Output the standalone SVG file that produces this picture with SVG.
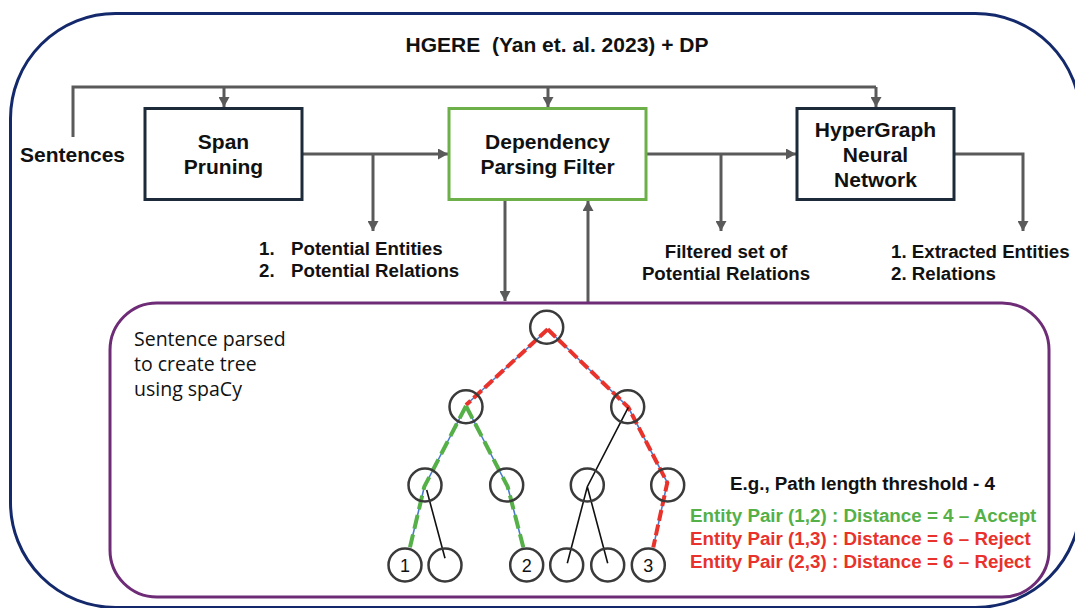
<svg xmlns="http://www.w3.org/2000/svg" width="1075" height="608" viewBox="0 0 1075 608">
<style>
.b{font-family:"Liberation Sans",Arial,sans-serif;font-weight:bold;fill:#111}
.box{fill:#fff;stroke-width:3}
.con{fill:none;stroke:#5a5a5a;stroke-width:3}
.node{fill:none;stroke:#3a3a3a;stroke-width:2.5}
.blue{stroke:#4a7ccc;stroke-width:1.6;fill:none}
.red{stroke:#e8322b;stroke-width:4;stroke-dasharray:11 4;fill:none}
.grn{stroke:#55b047;stroke-width:4;stroke-dasharray:14 6;fill:none}
.blk{stroke:#111;stroke-width:1.6;fill:none}
.lbl{font-family:"Liberation Sans",Arial,sans-serif;font-size:18px;fill:#111;text-anchor:middle}
</style>
<defs>
<marker id="ah" markerUnits="userSpaceOnUse" markerWidth="11" markerHeight="11" refX="10" refY="5.5" orient="auto">
<path d="M0,0 L10,5.5 L0,11 z" fill="#5a5a5a"/>
</marker>
</defs>
<rect x="10.5" y="13.5" width="1070" height="594" rx="105" fill="#fff" stroke="#13296b" stroke-width="3"/>
<text class="b" x="557" y="52" font-size="21" text-anchor="middle" xml:space="preserve">HGERE  (Yan et. al. 2023) + DP</text>
<text class="b" x="20" y="162" font-size="21">Sentences</text>

<g id="connectors">
<polyline class="con" points="73,137 73,87 876,87"/>
<line class="con" x1="224" y1="87" x2="224" y2="107" marker-end="url(#ah)"/>
<line class="con" x1="548" y1="87" x2="548" y2="107" marker-end="url(#ah)"/>
<line class="con" x1="876" y1="87" x2="876" y2="107" marker-end="url(#ah)"/>
<line class="con" x1="302" y1="154" x2="448" y2="154" marker-end="url(#ah)"/>
<line class="con" x1="373" y1="154" x2="373" y2="231" marker-end="url(#ah)"/>
<line class="con" x1="646" y1="154" x2="796" y2="154" marker-end="url(#ah)"/>
<line class="con" x1="721" y1="154" x2="721" y2="231" marker-end="url(#ah)"/>
<polyline class="con" points="954,154 1023,154 1023,231" marker-end="url(#ah)"/>
<line class="con" x1="505" y1="200" x2="505" y2="301" marker-end="url(#ah)"/>
<line class="con" x1="588" y1="303" x2="588" y2="201" marker-end="url(#ah)"/>
</g>

<g id="span-pruning">
<rect class="box" x="145" y="108.5" width="157" height="91" stroke="#1d2a3a"/>
<text class="b" x="223.5" y="148.5" font-size="21" text-anchor="middle">Span</text>
<text class="b" x="223.5" y="173.5" font-size="21" text-anchor="middle">Pruning</text>
</g>
<g id="dp-filter">
<rect class="box" x="449" y="108.5" width="197" height="91" stroke="#6db04a"/>
<text class="b" x="547.5" y="148.5" font-size="21" text-anchor="middle">Dependency</text>
<text class="b" x="547.5" y="173.5" font-size="21" text-anchor="middle">Parsing Filter</text>
</g>
<g id="hgnn">
<rect class="box" x="797" y="108.5" width="157" height="91" stroke="#1d2a3a"/>
<text class="b" x="875.5" y="137" font-size="21" text-anchor="middle">HyperGraph</text>
<text class="b" x="875.5" y="162" font-size="21" text-anchor="middle">Neural</text>
<text class="b" x="875.5" y="187" font-size="21" text-anchor="middle">Network</text>
</g>

<g id="label-potential">
<text class="b" font-size="18.7"><tspan x="259" y="255">1.</tspan><tspan x="291" y="255">Potential Entities</tspan><tspan x="259" y="277">2.</tspan><tspan x="291" y="277">Potential Relations</tspan></text>
</g>
<g id="label-filtered">
<text class="b" font-size="18.7" text-anchor="middle"><tspan x="726" y="258">Filtered set of</tspan><tspan x="726" y="280">Potential Relations</tspan></text>
</g>
<g id="label-extracted">
<text class="b" font-size="18.7"><tspan x="891" y="258">1. Extracted Entities</tspan><tspan x="891" y="280">2. Relations</tspan></text>
</g>

<g id="parse-box">
<rect x="110" y="303" width="939" height="294" rx="47" fill="none" stroke="#6e2c77" stroke-width="3"/>
<text font-family="'Open Sans','Noto Sans',sans-serif" font-size="19.5" fill="#111"><tspan x="134" y="346">Sentence parsed</tspan><tspan x="134" y="371">to create tree</tspan><tspan x="134" y="396">using spaCy</tspan></text>
</g>

<g id="tree">
<g id="tree-edges">
<path class="blue" d="M547.7,329.3 L466,405 M547.7,329.3 L628.3,407.3 L667.3,482.7 L653.3,547.3 M466,406 L424.3,486.7 L410,547.3 M466,406 L507.7,486.7 L523.3,547.3"/>
<path class="red" d="M547.7,329.3 L466,405"/>
<path class="red" d="M547.7,329.3 L628.3,407.3 L667.3,482.7 L653.3,547.3"/>
<path class="grn" d="M466,406 L424.3,486.7 L410,547.3"/>
<path class="grn" d="M466,406 L507.7,486.7 L523.3,547.3"/>
<path class="blk" d="M426.7,490 L445,558.3 M628.3,407.3 L587.3,486.7 L567.3,563.3 M587.3,486.7 L607.7,563.3"/>
</g>
<circle id="n-root" class="node" cx="546.7" cy="327.3" r="16.5"/>
<circle id="n-l" class="node" cx="466" cy="406.7" r="16.5"/>
<circle id="n-r" class="node" cx="627.7" cy="406.7" r="16.5"/>
<circle id="n-ll" class="node" cx="425" cy="485" r="16.5"/>
<circle id="n-lr" class="node" cx="506.7" cy="485" r="16.5"/>
<circle id="n-rl" class="node" cx="587.3" cy="485" r="16.5"/>
<circle id="n-rr" class="node" cx="667.7" cy="485" r="16.5"/>
<g id="leaf1"><circle class="node" cx="405" cy="565" r="16.5"/><text class="lbl" x="405" y="571.5">1</text></g>
<circle id="leaf-a" class="node" cx="445" cy="565" r="16.5"/>
<g id="leaf2"><circle class="node" cx="526.7" cy="565" r="16.5"/><text class="lbl" x="526.7" y="571.5">2</text></g>
<circle id="leaf-b" class="node" cx="566.7" cy="565" r="16.5"/>
<circle id="leaf-c" class="node" cx="607.7" cy="565" r="16.5"/>
<g id="leaf3"><circle class="node" cx="648.3" cy="565" r="16.5"/><text class="lbl" x="648.3" y="571.5">3</text></g>
</g>

<g id="legend">
<text class="b" x="862.5" y="490" font-size="18.8" text-anchor="middle">E.g., Path length threshold - 4</text>
<text class="b" x="690" y="522" font-size="18.8" style="fill:#55b047">Entity Pair (1,2) : Distance = 4 – Accept</text>
<text class="b" x="690" y="545" font-size="18.8" style="fill:#e8322b">Entity Pair (1,3) : Distance = 6 – Reject</text>
<text class="b" x="690" y="568" font-size="18.8" style="fill:#e8322b">Entity Pair (2,3) : Distance = 6 – Reject</text>
</g>
</svg>
